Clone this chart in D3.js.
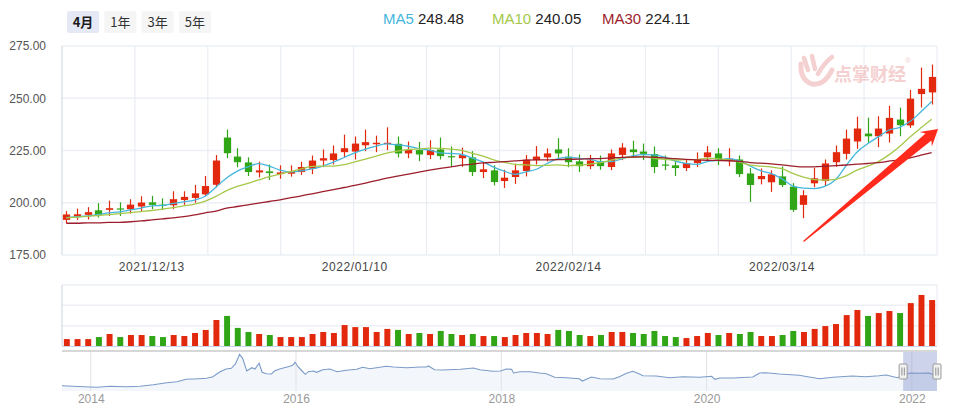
<!DOCTYPE html>
<html><head><meta charset="utf-8">
<script src="https://cdn.jsdelivr.net/npm/d3@7/dist/d3.min.js"></script>
<style>
html,body{margin:0;padding:0;background:#fff;}
svg{display:block;font-family:"Liberation Sans",Arial,"Noto Sans CJK SC",sans-serif;}
</style></head><body>
<svg id="c" width="959" height="410"></svg>
<script>
// ---------------- DATA ----------------
const dates = ["2021/12/01","2021/12/02","2021/12/03","2021/12/06","2021/12/07","2021/12/08","2021/12/09","2021/12/10","2021/12/13","2021/12/14","2021/12/15","2021/12/16","2021/12/17","2021/12/20","2021/12/21","2021/12/22","2021/12/23","2021/12/24","2021/12/27","2021/12/28","2021/12/29","2021/12/30","2021/12/31",
"2022/01/04","2022/01/05","2022/01/06","2022/01/07","2022/01/10","2022/01/11","2022/01/12","2022/01/13","2022/01/14","2022/01/17","2022/01/18","2022/01/19","2022/01/20","2022/01/21","2022/01/24","2022/01/25","2022/01/26","2022/01/27","2022/01/28",
"2022/02/07","2022/02/08","2022/02/09","2022/02/10","2022/02/11","2022/02/14","2022/02/15","2022/02/16","2022/02/17","2022/02/18","2022/02/21","2022/02/22","2022/02/23","2022/02/24","2022/02/25","2022/02/28",
"2022/03/01","2022/03/02","2022/03/03","2022/03/04","2022/03/07","2022/03/08","2022/03/09","2022/03/10","2022/03/11","2022/03/14","2022/03/15","2022/03/16","2022/03/17","2022/03/18","2022/03/21","2022/03/22","2022/03/23","2022/03/24","2022/03/25","2022/03/28","2022/03/29","2022/03/30","2022/03/31",
"2022/04/01"];

const opens  = [191.8,193.4,194.2,196.4,196.6,197.3,196.9,198.2,200.2,199.1, 198.8,201.3,202.3,204.0,208.6,231.2,222.1,219.3,214.5,215.0, 213.7,213.9,214.7,216.3,220.2,220.4,224.2,224.5,227.5,228.0, 228.2,228.2,223.6,225.2,222.8,225.5,222.3,221.3,221.7,214.7, 215.5,210.4,212.3,215.2,220.4,221.7,225.5,222.0,219.8,217.5, 219.9,217.1,222.9,225.5,224.5,223.3,218.3,217.9,216.6,219.0, 221.8,223.6,220.6,220.7,214.0,211.3,209.8,212.6,207.7,199.0, 209.3,210.4,219.4,223.4,229.3,233.1,231.8,233.1,239.8,237.0, 252.0,252.8];
const highs  = [196.0,197.2,197.9,199.8,201.0,200.2,201.7,203.1,203.3,202.1, 205.5,205.5,208.5,212.8,222.8,235.0,226.1,221.7,219.7,218.3, 217.9,217.9,219.6,222.6,225.5,227.4,232.6,231.7,235.0,232.1, 236.1,231.7,229.3,229.1,229.9,231.2,226.9,226.4,224.7,219.4, 217.9,215.8,218.7,222.8,227.1,226.0,230.9,226.1,223.1,222.9, 222.6,225.5,228.5,229.7,228.3,226.9,222.6,220.2,220.6,224.1, 227.1,226.1,226.1,222.6,216.6,216.4,215.5,217.4,209.4,206.0, 216.6,220.7,227.4,235.0,241.2,240.7,241.4,246.4,245.5,254.0, 264.7,266.1];
const lows   = [190.2,191.8,192.0,192.9,193.7,193.7,194.8,196.0,196.9,196.6, 196.9,199.0,200.0,203.2,207.4,221.3,217.0,212.8,212.1,210.9, 211.5,212.5,213.3,213.7,217.2,218.3,221.7,220.7,224.7,224.2, 225.2,221.7,221.3,219.9,220.9,220.7,217.4,217.2,212.8,211.8, 208.3,207.1,209.0,212.6,218.3,219.8,221.5,217.0,214.7,216.1, 215.8,215.6,220.4,221.5,220.4,214.2,215.6,212.8,215.2,217.1, 219.9,218.0,217.5,212.3,200.4,208.8,205.2,207.5,195.6,192.6, 207.4,208.0,217.2,220.7,225.8,228.7,226.6,228.8,231.8,235.8, 245.6,247.0];
const closes = [194.4,194.5,195.5,194.0,197.4,196.8,199.1,200.1,199.0,198.5, 201.7,202.8,204.5,208.0,220.2,223.7,219.4,214.7,215.5,214.2, 214.5,214.8,217.1,220.2,221.3,223.6,226.1,228.3,229.0,228.7, 228.7,223.6,225.2,223.1,225.2,222.3,222.0,222.8,214.7,216.0, 209.9,212.0,215.5,220.6,222.1,223.6,223.6,219.4,217.5,220.2, 217.5,223.6,226.4,224.2,223.4,217.1,218.0,216.6,219.0,220.9, 224.1,220.7,221.0,213.7,208.5,212.8,213.6,208.5,196.6,203.6, 211.7,218.8,224.2,230.7,235.5,231.8,235.5,240.6,237.1,249.8, 254.5,260.2];
const volumes = [34,34,34,44,59,44,54,54,49,44, 54,49,64,79,128,148,89,69,59,54, 44,44,44,59,69,64,103,93,93,69, 84,79,59,64,59,74,59,54,59,49, 49,44,54,64,64,59,79,74,54,49, 54,69,69,64,59,74,49,44,39,49, 64,54,64,59,69,49,49,54,74,69, 84,98,108,152,177,148,162,172,162,211, 251,226];

// moving-average values before enough closes exist
const ma5Seed  = [192.9,193.3,193.7,194.4];
const ma10Seed = [192.8,193.1,193.5,193.9,194.3,194.8,195.3,195.8,196.3];
const ma30Seed = [190.2,190.2,190.4,190.4,190.6,190.6,190.9,191.3,191.8,192.3, 192.8,193.4,194.2,195.2,196.0,197.4,198.2,199.0,199.8,200.6, 201.4,202.4,203.3,204.3,205.3,206.3,207.3,208.3,209.4];

const priceTicks = [175,200,225,250,275];
const volumeTicks = [0,100,200,300];
const dateTickLabels = ["2021/12/13","2022/01/10","2022/02/14","2022/03/14"];
const rangeButtons = ["4月","1年","3年","5年"];
const legendNames = ["MA5","MA10","MA30"];
const legendValues = ["248.48","240.05","224.11"];

// navigator overview series: [decimal year, value]
const navSeries = [[2013.72,53],[2013.83,47],[2013.99,40],[2014.06,37],[2014.19,47],[2014.35,43],[2014.48,47],[2014.61,63],[2014.74,83],[2014.84,93],[2014.93,117],[2015.06,123],[2015.13,127],[2015.19,143],[2015.26,193],[2015.32,220],[2015.37,227],[2015.41,270],[2015.45,367],[2015.48,327],[2015.52,200],[2015.57,233],[2015.60,220],[2015.64,277],[2015.67,187],[2015.71,173],[2015.76,170],[2015.79,200],[2015.84,220],[2015.94,247],[2015.97,260],[2015.99,287],[2016.02,243],[2016.05,210],[2016.09,167],[2016.12,193],[2016.17,200],[2016.20,187],[2016.26,213],[2016.33,220],[2016.40,193],[2016.49,207],[2016.59,217],[2016.65,237],[2016.72,223],[2016.88,247],[2016.95,240],[2017.08,233],[2017.21,240],[2017.27,240],[2017.29,250],[2017.35,213],[2017.43,210],[2017.60,217],[2017.73,230],[2017.79,213],[2017.92,197],[2017.99,200],[2018.05,220],[2018.10,217],[2018.12,180],[2018.18,193],[2018.28,193],[2018.37,180],[2018.44,173],[2018.52,137],[2018.63,133],[2018.76,123],[2018.79,100],[2018.85,127],[2018.88,140],[2018.96,123],[2019.09,120],[2019.15,143],[2019.22,177],[2019.28,197],[2019.33,177],[2019.38,153],[2019.51,150],[2019.64,133],[2019.77,143],[2019.93,137],[2020.05,147],[2020.08,117],[2020.13,130],[2020.26,130],[2020.45,140],[2020.50,170],[2020.52,180],[2020.58,183],[2020.71,170],[2020.90,157],[2021.10,123],[2021.23,137],[2021.42,150],[2021.55,143],[2021.68,153],[2021.75,160],[2021.86,133],[2021.94,170],[2021.99,180],[2022.07,177],[2022.17,180],[2022.21,163],[2022.245,165]];
const navYearTicks = [2014,2016,2018,2020,2022];
const navDomain = [2013.72, 2022.245];
const navSelection = [2021.915, 2022.245];
const navValueDomain = [0, 400];

// annotation arrow in data space: [candle index, price]
const arrowFrom = [69.0, 181.5];
const arrowTo = [81.6, 235.3];

// ---------------- STYLE ----------------
const UP = "#e2290d", DOWN = "#30a617";
const MA_COLORS = ["#45b6dc", "#a5c84a", "#9c1d2b"];
const GRID = "#edf0f5";

// ---------------- LAYOUT ----------------
const P = {l:62, r:937, t:46, b:255};
const V = {t:285, b:346};
const N = {t:351, b:391};

const svg = d3.select("#c");

const x = d3.scaleBand().domain(dates).range([61, 937]).paddingInner(0.32).paddingOuter(0.16);
const cx = d => x(d) + x.bandwidth()/2;
const y = d3.scaleLinear().domain([175, 275]).range([P.b, P.t]);
const yv = d3.scaleLinear().domain([0, 300]).range([V.b, V.t]);
const xi = d3.scaleLinear().domain([0, dates.length-1]).range([cx(dates[0]), cx(dates[dates.length-1])]);

// ---------- top buttons ----------
const btnScale = d3.scaleBand().domain(rangeButtons).range([67, 211]).paddingInner(0.14);
const btn = svg.append("g").selectAll("g").data(rangeButtons).join("g")
  .attr("transform", d => `translate(${btnScale(d)},11)`);
btn.append("rect").attr("width", btnScale.bandwidth()).attr("height", 22).attr("rx", 2)
  .attr("fill", (d,i) => i === 0 ? "#e5e9f5" : "#f5f5f6");
btn.append("text").attr("x", btnScale.bandwidth()/2).attr("y", 15.5).attr("text-anchor", "middle")
  .style("font-family", '"Noto Sans CJK SC",sans-serif').style("font-size", "13px")
  .style("font-weight", (d,i) => i === 0 ? "700" : "400")
  .attr("fill", (d,i) => i === 0 ? "#1a1a1a" : "#333").text(d => d);

// ---------- legend ----------
const legendX = [383, 492, 602];
const lg = svg.append("g").selectAll("text").data(legendNames).join("text")
  .attr("x", (d,i) => legendX[i]).attr("y", 24).style("font-size", "15px");
lg.append("tspan").attr("fill", (d,i) => MA_COLORS[i]).text(d => d);
lg.append("tspan").attr("fill", "#222").text((d,i) => " " + legendValues[i]);

// ---------- main grid ----------
const gGrid = svg.append("g");
gGrid.selectAll("line.h").data(priceTicks).join("line")
  .attr("x1", P.l).attr("x2", P.r).attr("y1", d => y(d)).attr("y2", d => y(d))
  .attr("stroke", GRID).attr("stroke-width", 1.5);
const vg = d3.scaleLinear().domain([0, 12]).range([P.l, P.r]);
gGrid.selectAll("line.v").data(d3.range(1, 13)).join("line")
  .attr("x1", d => vg(d)).attr("x2", d => vg(d)).attr("y1", P.t).attr("y2", P.b)
  .attr("stroke", "#e6eaf1").attr("stroke-width", 1);
gGrid.append("line").attr("x1", P.l).attr("x2", P.l).attr("y1", P.t).attr("y2", P.b)
  .attr("stroke", "#cdd5e1").attr("stroke-width", 1);

// y axis labels
svg.append("g").attr("transform", `translate(${P.l},0)`)
  .call(d3.axisLeft(y).tickValues(priceTicks).tickFormat(d3.format(".2f")).tickSize(0).tickPadding(16))
  .call(g => g.select(".domain").remove())
  .call(g => g.selectAll("text").attr("fill", "#555").style("font-size", "12px").style("font-family", '"Liberation Sans",Arial,sans-serif'));

// x date labels
svg.append("g").attr("transform", `translate(0,${P.b})`)
  .call(d3.axisBottom(x).tickValues(dateTickLabels).tickSize(0).tickPadding(7))
  .call(g => g.select(".domain").remove())
  .call(g => g.selectAll("text").attr("fill", "#444").style("font-size", "12px").style("letter-spacing", "0.6px").style("font-family", '"Liberation Sans",Arial,sans-serif'));

// ---------- watermark ----------
const wm = svg.append("g").attr("opacity", 0.55);
wm.append("path").attr("d", "M801,64 Q800,80 812,84 Q824,86 832,70").attr("fill", "none").attr("stroke", "#eeaaaa").attr("stroke-width", 5).attr("stroke-linecap", "round");
wm.append("path").attr("d", "M804,58 L808,70 M812,56 L815,69 M832,57 Q824,63 818,74").attr("fill", "none").attr("stroke", "#eeaaaa").attr("stroke-width", 4.5).attr("stroke-linecap", "round");
wm.append("text").attr("x", 834).attr("y", 81).style("font-family", '"Noto Sans CJK SC",sans-serif')
  .style("font-size", "18px").style("font-weight", "700").attr("fill", "#eeaaaa").text("点掌财经");
wm.append("text").attr("x", 905).attr("y", 63).style("font-size", "8px").attr("fill", "#eeaaaa").text("®");

// ---------- candles ----------
const idx = d3.range(dates.length);
const col = i => closes[i] >= opens[i] ? UP : DOWN;
const gC = svg.append("g");
gC.selectAll("line").data(idx).join("line")
  .attr("x1", i => Math.round(cx(dates[i])) + 0.5).attr("x2", i => Math.round(cx(dates[i])) + 0.5)
  .attr("y1", i => y(highs[i])).attr("y2", i => y(lows[i]))
  .attr("stroke", col).attr("stroke-width", 1.2);
gC.selectAll("rect").data(idx).join("rect")
  .attr("x", i => Math.round(cx(dates[i])) + 0.5 - x.bandwidth()/2)
  .attr("width", x.bandwidth())
  .attr("y", i => y(Math.max(opens[i], closes[i])))
  .attr("height", i => Math.max(1.2, Math.abs(y(opens[i]) - y(closes[i]))))
  .attr("fill", col);

// ---------- moving averages ----------
function ma(n, seed) {
  return idx.map(i => i < n - 1 ? seed[i] : d3.mean(closes.slice(i - n + 1, i + 1)));
}
const maSeries = [ma(5, ma5Seed), ma(10, ma10Seed), ma(30, ma30Seed)];
const maLine = d3.line().x((d,i) => cx(dates[i])).y(d => y(d)).curve(d3.curveMonotoneX);
svg.append("g").selectAll("path").data(maSeries).join("path")
  .attr("d", maLine).attr("fill", "none")
  .attr("stroke", (d,i) => MA_COLORS[i]).attr("stroke-width", 1.3);

// ---------- arrow annotation ----------
(function(){
  const x0 = xi(arrowFrom[0]), y0 = y(arrowFrom[1]);
  const x1 = xi(arrowTo[0]), y1 = y(arrowTo[1]);
  const L = Math.hypot(x1 - x0, y1 - y0);
  const ang = Math.atan2(y1 - y0, x1 - x0) * 180 / Math.PI;
  const pts = [[0,0],[-16,-9.5],[-12.5,-4.6],[-L,-0.6],[-L,0.6],[-12.5,4.6],[-16,9.5]];
  svg.append("path")
    .attr("d", d3.line()(pts) + "Z")
    .attr("transform", `translate(${x1},${y1}) rotate(${ang})`)
    .attr("fill", "#ff2a1c");
})();

// ---------- volume panel ----------
const gV = svg.append("g");
gV.selectAll("line").data(volumeTicks.slice(1)).join("line")
  .attr("x1", P.l).attr("x2", P.r).attr("y1", d => yv(d)).attr("y2", d => yv(d))
  .attr("stroke", GRID).attr("stroke-width", 1.5);
gV.append("line").attr("x1", P.r).attr("x2", P.r).attr("y1", V.t).attr("y2", V.b).attr("stroke", "#e6eaf1");
gV.append("line").attr("x1", P.l).attr("x2", P.l).attr("y1", V.t).attr("y2", V.b).attr("stroke", "#cdd5e1");
const vw = x.bandwidth() * 0.82;
gV.selectAll("rect").data(idx).join("rect")
  .attr("x", i => cx(dates[i]) + 0.5 - vw/2).attr("width", vw)
  .attr("y", i => yv(volumes[i])).attr("height", i => yv(0) - yv(volumes[i]))
  .attr("fill", col);
gV.append("line").attr("x1", P.l).attr("x2", P.r).attr("y1", V.b + 0.5).attr("y2", V.b + 0.5)
  .attr("stroke", "#c8d4e8").attr("stroke-width", 1.2);

// ---------- navigator ----------
const xn = d3.scaleLinear().domain(navDomain).range([P.l, P.r]);
const yn = d3.scaleLinear().domain(navValueDomain).range([N.b, N.t]);
const gN = svg.append("g");
gN.append("path").datum(navSeries)
  .attr("d", d3.area().x(d => xn(d[0])).y0(N.b).y1(d => yn(d[1])))
  .attr("fill", "#f3f6fb");
gN.selectAll("line.g").data(navYearTicks).join("line")
  .attr("x1", d => xn(d)).attr("x2", d => xn(d)).attr("y1", N.t).attr("y2", N.b)
  .attr("stroke", "#e2e2e2").attr("stroke-width", 1);
gN.append("path").datum(navSeries)
  .attr("d", d3.line().x(d => xn(d[0])).y(d => yn(d[1])))
  .attr("fill", "none").attr("stroke", "#7b9bc8").attr("stroke-width", 1.1);
gN.append("line").attr("x1", P.l).attr("x2", P.r).attr("y1", N.t).attr("y2", N.t)
  .attr("stroke", "#cacaca").attr("stroke-width", 1.6);
// selection
gN.append("rect").attr("x", xn(navSelection[0])).attr("y", N.t + 1)
  .attr("width", xn(navSelection[1]) - xn(navSelection[0])).attr("height", N.b - N.t - 1)
  .attr("fill", "rgba(120,140,200,0.38)");
const hd = gN.selectAll("g.h").data(navSelection).join("g")
  .attr("transform", d => `translate(${xn(d)},${(N.t + N.b)/2 + 0.5})`);
hd.append("rect").attr("x", -4).attr("y", -7.5).attr("width", 8).attr("height", 15).attr("rx", 1)
  .attr("fill", "#f2f2f2").attr("stroke", "#9a9a9a");
hd.append("path").attr("d", "M-1.2,-4V4M1.2,-4V4").attr("stroke", "#777").attr("stroke-width", 0.8);
svg.append("g").attr("transform", `translate(0,${N.b})`)
  .call(d3.axisBottom(xn).tickValues(navYearTicks).tickFormat(d3.format("d")).tickSize(0).tickPadding(3))
  .call(g => g.select(".domain").remove())
  .call(g => g.selectAll("text").attr("fill", "#999").style("font-size", "12px").style("font-family", '"Liberation Sans",Arial,sans-serif'));
</script>
</body></html>
